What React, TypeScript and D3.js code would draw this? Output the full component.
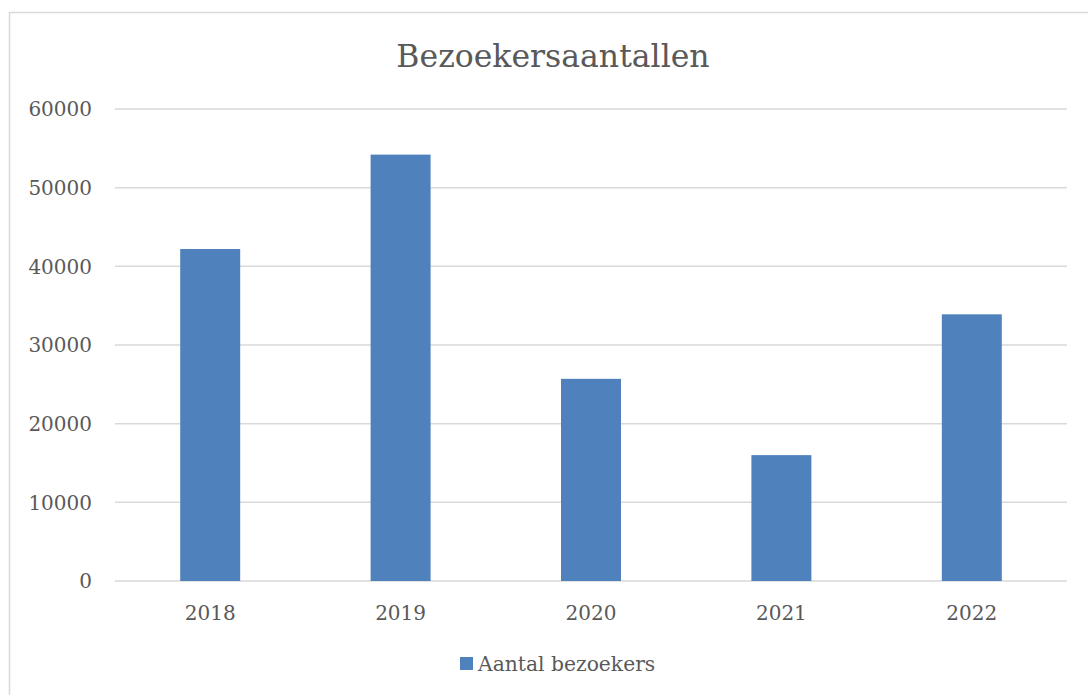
import React from "react";
import * as d3 from "d3";

const categories = ["2018", "2019", "2020", "2021", "2022"];
const visitors = [42200, 54200, 25700, 16000, 33900];
const yTicks = [0, 10000, 20000, 30000, 40000, 50000, 60000];
const title = "Bezoekersaantallen";
const seriesName = "Aantal bezoekers";

const W = 1088;
const H = 695;
const FONT = "'DejaVu Serif', 'Liberation Serif', serif";
const TEXT = "#595959";
const GRID = "#d9d9d9";
const BAR = "#4f81bd";

export default function App() {
  const left = 115;
  const right = 1067;
  const top = 109;
  const bottom = 581;

  const x = d3.scaleBand<string>().domain(categories).range([left, right]).paddingInner(0.685).paddingOuter(0.3425);
  const y = d3.scaleLinear().domain([0, 60000]).range([bottom, top]);

  return (
    <svg width={W} height={H} style={{ position: "absolute", left: 0, top: 0, background: "#fff" }}>
      <rect x={0} y={0} width={W} height={H} fill="#fff" />
      <path d={`M9.5,${H} V12.5 H${W}`} fill="none" stroke={GRID} strokeWidth={1.5} />
      <text x={553} y={66.5} textAnchor="middle" fontFamily={FONT} fontSize={31.5} fill={TEXT}>
        {title}
      </text>
      {yTicks.map((t) => (
        <g key={t}>
          <line x1={left} x2={right} y1={y(t)} y2={y(t)} stroke={GRID} strokeWidth={1.5} />
          <text x={92} y={y(t)} dy="0.36em" textAnchor="end" fontFamily={FONT} fontSize={20} fill={TEXT}>
            {t}
          </text>
        </g>
      ))}
      {categories.map((c, i) => (
        <rect key={c} x={x(c)} y={y(visitors[i])} width={x.bandwidth()} height={y(0) - y(visitors[i])} fill={BAR} />
      ))}
      {categories.map((c) => (
        <text key={c} x={(x(c) as number) + x.bandwidth() / 2} y={620} textAnchor="middle" fontFamily={FONT} fontSize={20} fill={TEXT}>
          {c}
        </text>
      ))}
      <rect x={460} y={657} width={13} height={13} fill={BAR} />
      <text x={478} y={670.5} fontFamily={FONT} fontSize={20.3} fill={TEXT}>
        {seriesName}
      </text>
    </svg>
  );
}
